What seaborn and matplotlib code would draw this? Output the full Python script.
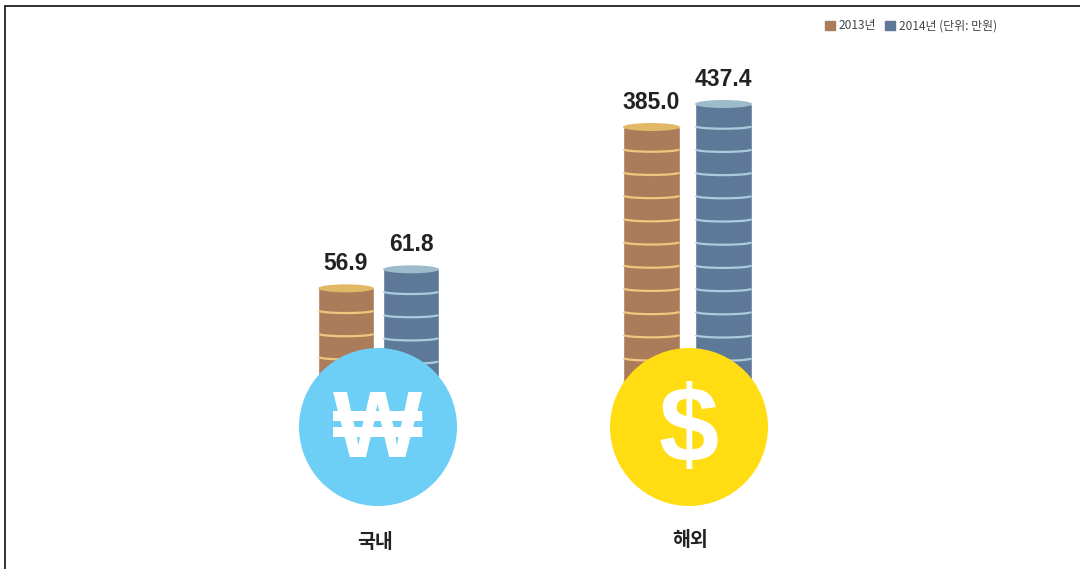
import numpy as np
import matplotlib
matplotlib.use("Agg")
import matplotlib.pyplot as plt
from matplotlib.patches import Arc, Circle, Ellipse, Patch
import seaborn as sns

years = ["2013", "2014"]
domestic = [56.9, 61.8]
overseas = [385.0, 437.4]
group_names = ["국내", "해외"]
legend_labels = ["2013년", "2014년 (단위: 만원)"]
currency = ["₩", "$"]

W, H = 1080, 569
BODY = {"2013": "#AB7C59", "2014": "#5E7898"}
RING = {"2013": "#F3C67E", "2014": "#A9CBDD"}
TOP = {"2013": "#E2B866", "2014": "#9DBBCA"}
COIN = 23.2      # coin thickness in px
CUT = 420        # stacks end behind the circles

sns.set_theme(style="white")
plt.rcParams["font.family"] = ["Liberation Sans", "Noto Sans CJK KR", "DejaVu Sans"]

fig = plt.figure(figsize=(W / 100, H / 100), dpi=100)


def make_axes(left, right, top, bottom):
    a = fig.add_axes([left / W, 1 - bottom / H, (right - left) / W, (bottom - top) / H])
    a.patch.set_alpha(0)
    return a


# the source chart is not to scale: each group gets its own axis
ax1 = make_axes(313.5, 443.5, 230, CUT)
sns.barplot(x=years, y=domestic, hue=years, palette=BODY, width=56 / 65, dodge=False,
            legend=False, saturation=1, ax=ax1)
ax1.set_ylim((509 - CUT) / 3.878, (509 - 230) / 3.878)

ax2 = make_axes(615.5, 759.5, 60, CUT)
sns.barplot(x=years, y=overseas, hue=years, palette=BODY, width=57 / 72, dodge=False,
            legend=False, saturation=1, ax=ax2)
# broken axis: everything under 300 is squeezed behind the circle
ax2.set_yscale("function", functions=(
    lambda v: np.interp(v, [0, 300, 700], [0, 582, 982]),
    lambda v: np.interp(v, [0, 582, 982], [0, 300, 700])))
ax2.set_ylim(0, 537.6)

for a in (ax1, ax2):
    a.set_xlim(-0.5, 1.5)
    a.axis("off")

# pixel overlay for the stack details, badges and captions
over = fig.add_axes([0, 0, 1, 1], zorder=5)
over.set_xlim(0, W)
over.set_ylim(H, 0)
over.axis("off")


def data_to_px(a, x, y):
    px, py = a.transData.transform((x, y))
    return px, H - py


for a, vals in [(ax1, domestic), (ax2, overseas)]:
    for bar, year, val in zip(a.patches, years, vals):
        cx = bar.get_x() + bar.get_width() / 2
        px, py = data_to_px(a, cx, val)
        w = bar.get_width() * (a.transData.transform((1, 0))[0] - a.transData.transform((0, 0))[0])
        for y in np.arange(py + COIN, CUT, COIN):
            over.add_patch(Arc((px, y - 1), w - 1.5, 5, theta1=0, theta2=180, color=RING[year], lw=1.6))
        over.add_patch(Ellipse((px, py), w, 8, color=TOP[year], lw=0))
        over.text(px, py - 18, f"{val:.1f}", ha="center", va="baseline", fontsize=16.5,
                  fontweight="bold", color="#222222")

# currency badges
badges = [(378, 427, "#6DCFF6"), (689, 427, "#FFDD12")]
for bx, by, col in badges:
    over.add_patch(Circle((bx, by), 79, color=col, lw=0))
over.text(378, 432, currency[0], ha="center", va="center", fontsize=68, fontweight="bold",
          color="white", family=["Liberation Sans"])
over.text(689, 433, currency[1], ha="center", va="center", fontsize=78, fontweight="bold",
          color="white", family=["Liberation Sans"])

over.text(375, 542, group_names[0], ha="center", va="center", fontsize=14, fontweight="bold",
          color="#222222", family=["Noto Sans CJK KR"])
over.text(690, 540, group_names[1], ha="center", va="center", fontsize=14, fontweight="bold",
          color="#222222", family=["Noto Sans CJK KR"])

# legend
handles = [Patch(color=BODY[y]) for y in years]
over.legend(handles, legend_labels, ncol=2, loc="center left", bbox_to_anchor=(825 / W, 1 - 26 / H),
            bbox_transform=fig.transFigure, frameon=False, handlelength=0.85,
            handleheight=0.85, handletextpad=0.3, columnspacing=0.75, borderpad=0, borderaxespad=0,
            labelcolor="#444444", prop={"family": ["Noto Sans CJK KR"], "size": 8.6})

# frame of the scanned page: top and left only
over.plot([5, W], [6, 6], color="#222222", lw=1.3, clip_on=False)
over.plot([5, 5], [6, H], color="#222222", lw=1.3, clip_on=False)

fig.savefig("out.png", dpi=100)
